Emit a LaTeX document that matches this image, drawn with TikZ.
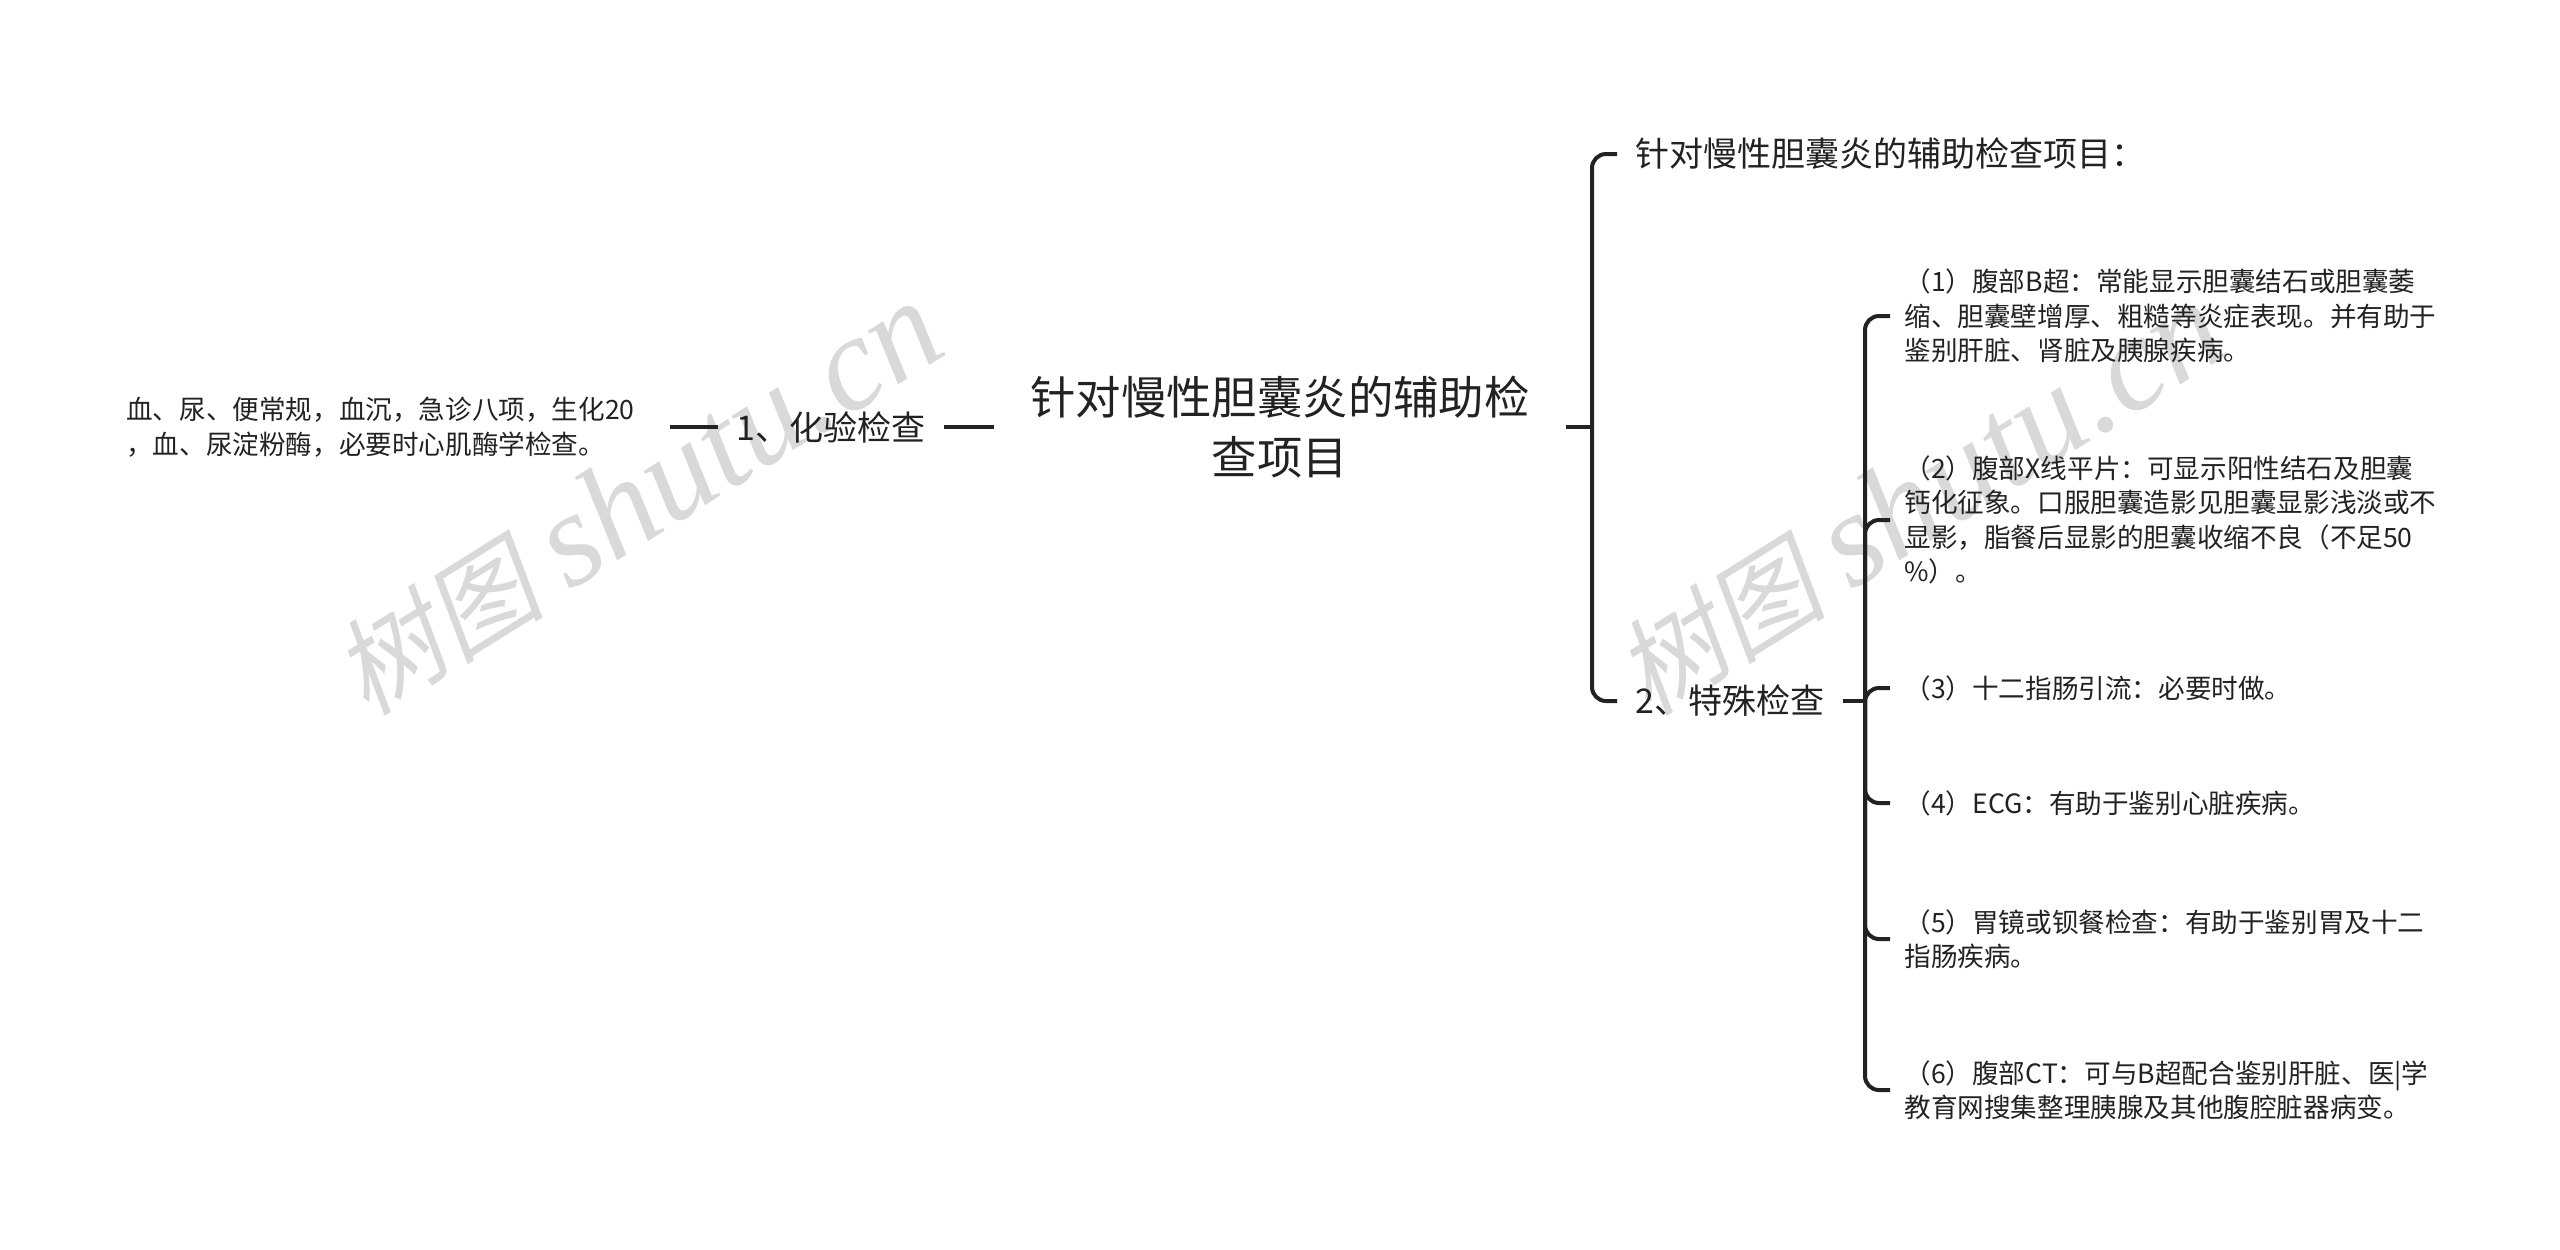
\documentclass[tikz,border=0pt]{standalone}
\usepackage{fontspec}
\setmainfont{Noto Sans CJK SC}
\newfontfamily\wmcjk[FakeSlant=0.2]{Noto Sans CJK SC}
\newfontfamily\wmlatin{Liberation Serif}
\definecolor{ink}{HTML}{222222}
\definecolor{wmgray}{HTML}{D9D9D9}
\tikzset{
  rootnode/.style={inner xsep=18pt,inner ysep=0pt,align=center,text=ink,font=\fontsize{22.7}{30}\selectfont},
  topicnode/.style={inner xsep=9pt,inner ysep=0pt,align=left,text=ink,font=\fontsize{17}{22}\selectfont},
  leafnode/.style={inner xsep=7pt,inner ysep=0pt,align=left,text=ink,font=\fontsize{13.3}{17.25}\selectfont},
  bloodnode/.style={leafnode,inner xsep=17.5pt},
  link/.style={draw=ink,line width=2pt,rounded corners=7pt},
  wmark/.style={rotate=32,text=wmgray,inner sep=0pt}
}
\begin{document}
\begin{tikzpicture}[x=0.5pt,y=-0.5pt]
\useasboundingbox (0,0) rectangle (2560,1249);
\node (wm1) at (637,499) [wmark] {\fontsize{53}{60}\wmcjk 树图\hspace{13pt}\fontsize{67}{60}\wmlatin\itshape shutu.cn};
\node (wm2) at (1919,499) [wmark] {\fontsize{53}{60}\wmcjk 树图\hspace{13pt}\fontsize{67}{60}\wmlatin\itshape shutu.cn};
\node (root) at (1280,427) [rootnode] {针对慢性胆囊炎的辅助检\\查项目};
\node (lab) at (831,427) [topicnode] {1、化验检查};
\node (blood) at (670,427) [bloodnode,anchor=east] {血、尿、便常规，血沉，急诊八项，生化20\\，血、尿淀粉酶，必要时心肌酶学检查。};
\node (aim) at (1617,154) [topicnode,anchor=west] {针对慢性胆囊炎的辅助检查项目：};
\node (special) at (1617,701) [topicnode,anchor=west] {2、特殊检查};
\node (q1) at (1890,316) [leafnode,anchor=west] {（1）腹部B超：常能显示胆囊结石或胆囊萎\\缩、胆囊壁增厚、粗糙等炎症表现。并有助于\\鉴别肝脏、肾脏及胰腺疾病。};
\node (q2) at (1890,520) [leafnode,anchor=west] {（2）腹部X线平片：可显示阳性结石及胆囊\\钙化征象。口服胆囊造影见胆囊显影浅淡或不\\显影，脂餐后显影的胆囊收缩不良（不足50\\\%）。};
\node (q3) at (1890,688) [leafnode,anchor=west] {（3）十二指肠引流：必要时做。};
\node (q4) at (1890,803) [leafnode,anchor=west] {（4）ECG：有助于鉴别心脏疾病。};
\node (q5) at (1890,939) [leafnode,anchor=west] {（5）胃镜或钡餐检查：有助于鉴别胃及十二\\指肠疾病。};
\node (q6) at (1890,1090) [leafnode,anchor=west] {（6）腹部CT：可与B超配合鉴别肝脏、医|学\\教育网搜集整理胰腺及其他腹腔脏器病变。};
\coordinate (rootbus) at (1592,427);
\coordinate (bus) at (1865,701);
\draw [link] (root.west) -- (lab.east);
\draw [link] (lab.west) -- (blood.east);
\draw [link] (root.east) -- (rootbus);
\draw [link] (rootbus) |- (aim.west);
\draw [link] (rootbus) |- (special.west);
\draw [link] (special.east) -- (bus);
\draw [link] (bus) |- (q1.west);
\draw [link] (bus) |- (q2.west);
\draw [link] (bus) |- (q3.west);
\draw [link] (bus) |- (q4.west);
\draw [link] (bus) |- (q5.west);
\draw [link] (bus) |- (q6.west);
\end{tikzpicture}
\end{document}
